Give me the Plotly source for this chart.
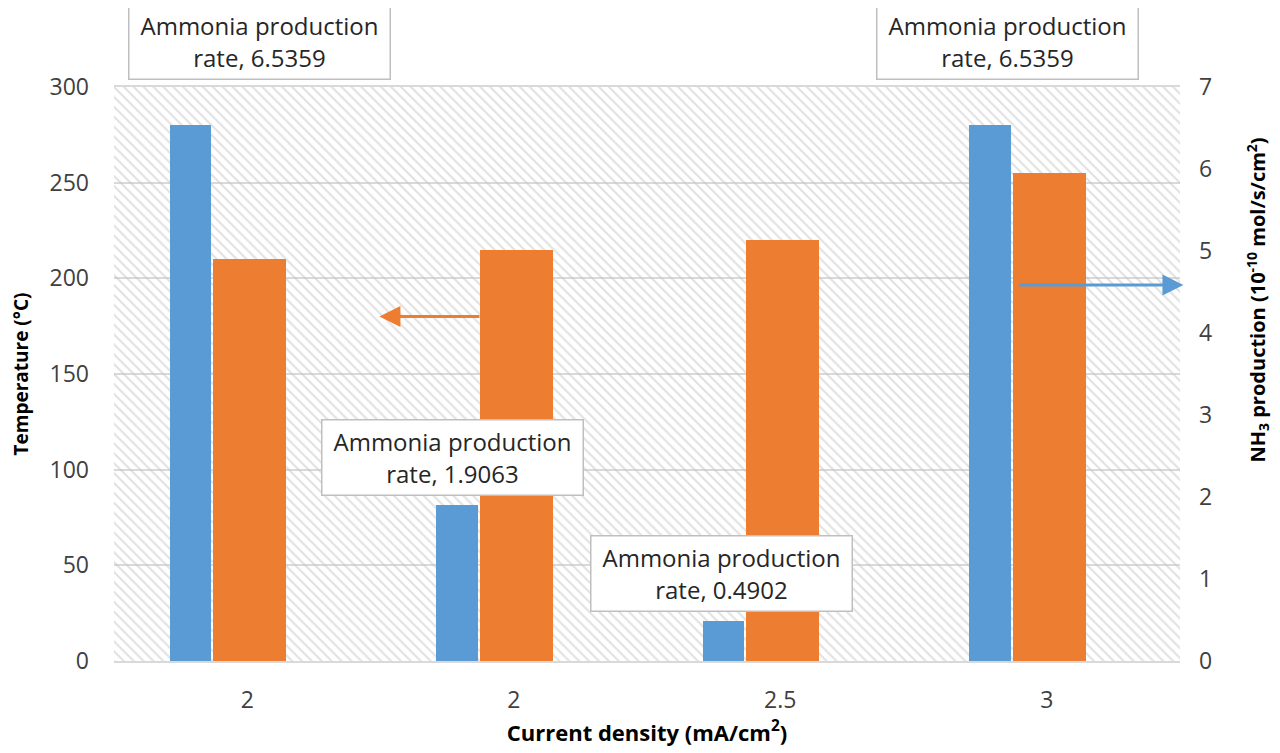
import plotly.graph_objects as go

# ---- data ----
categories = ["2", "2", "2.5", "3"]            # current density (mA/cm2)
ammonia_rate = [6.5359, 1.9063, 0.4902, 6.5359]  # NH3 production (1e-10 mol/s/cm2)
temperature = [210, 215, 220, 255]            # °C
left_ticks = [0, 50, 100, 150, 200, 250, 300]
right_ticks = [0, 1, 2, 3, 4, 5, 6, 7]

BLUE = "#5B9BD5"
ORANGE = "#ED7D31"
FONT = "Open Sans"

xpos = list(range(len(categories)))

fig = go.Figure()

# hatched plot background
fig.add_trace(go.Bar(
    x=[(xpos[0] + xpos[-1]) / 2], y=[left_ticks[-1]], base=0,
    width=[len(categories)], yaxis="y",
    marker=dict(color="rgba(255,255,255,0)", line=dict(width=0),
                pattern=dict(shape="\\", fgcolor="#c4c4c4", bgcolor="rgba(0,0,0,0)",
                             size=7, solidity=0.3)),
    hoverinfo="skip", showlegend=False))

fig.add_trace(go.Bar(
    x=xpos, y=ammonia_rate, yaxis="y2", name="Ammonia production rate",
    offset=-0.29, width=0.155, marker=dict(color=BLUE, line=dict(width=0)),
    showlegend=False))

fig.add_trace(go.Bar(
    x=xpos, y=temperature, yaxis="y3", name="Temperature",
    offset=-0.128, width=0.275, marker=dict(color=ORANGE, line=dict(width=0)),
    showlegend=False))

# label boxes
label_pos = [  # (x, yref, y)
    (0.045, "paper", 1.080),
    (0.772, "y", 106.6),
    (1.78, "y", 45.5),
    (2.851, "paper", 1.080),
]
for v, (lx, yr, ly) in zip(ammonia_rate, label_pos):
    fig.add_annotation(
        x=lx, xref="x", y=ly, yref=yr, xanchor="center", yanchor="middle",
        text=f"Ammonia production<br>rate, {v}", showarrow=False,
        font=dict(family=FONT, size=24, color="#262626"),
        bgcolor="white", bordercolor="#bfbfbf", borderwidth=1.5,
        width=256, height=70, borderpad=2, align="center")

# axis-indicating arrows
fig.add_annotation(x=0.496, y=180, xref="x", yref="y", ax=0.877, ay=180,
                   axref="x", ayref="y", text="", showarrow=True,
                   arrowhead=2, arrowsize=1.4, arrowwidth=3, arrowcolor=ORANGE,
                   standoff=0, startstandoff=0)
fig.add_annotation(x=3.513, y=4.585, xref="x", yref="y2", ax=2.892, ay=4.585,
                   axref="x", ayref="y2", text="", showarrow=True,
                   arrowhead=2, arrowsize=1.4, arrowwidth=3, arrowcolor=BLUE,
                   standoff=0, startstandoff=0)

# right axis title
fig.add_annotation(x=1.0728, y=0.629, xref="paper", yref="paper",
                   text="NH<sub>3</sub> production (10<sup>-10</sup> mol/s/cm<sup>2</sup>)",
                   textangle=-90, showarrow=False, xanchor="center", yanchor="middle",
                   font=dict(family=FONT, size=20, color="#000000", weight="bold"))

tickfont = dict(family=FONT, size=23, color="#404040")

fig.update_layout(
    width=1280, height=753,
    margin=dict(l=100, r=108, t=79, b=100),
    paper_bgcolor="white", plot_bgcolor="white",
    barmode="overlay", bargap=0,
    xaxis=dict(range=[-0.5, len(categories) - 0.5], tickvals=xpos, ticktext=categories,
               tickfont=tickfont, showgrid=False, zeroline=False,
               showline=True, mirror=True, linecolor="#d9d9d9", linewidth=1.5,
               ticks="", ticklabelstandoff=18,
               title=dict(text="Current density (mA/cm<sup>2</sup>)",
                          font=dict(family=FONT, size=22, color="#000000", weight="bold"),
                          standoff=4)),
    yaxis=dict(range=[left_ticks[0], left_ticks[-1]], tickvals=left_ticks,
               tickfont=tickfont, showgrid=True, gridcolor="#d9d9d9", gridwidth=1.5,
               zeroline=False, showline=False, ticks="", ticklabelstandoff=24,
               title=dict(text="Temperature (°C)",
                          font=dict(family=FONT, size=19, color="#000000", weight="bold"),
                          standoff=16)),
    yaxis2=dict(range=[right_ticks[0], right_ticks[-1]], tickvals=right_ticks,
                overlaying="y", side="right", tickfont=tickfont, showgrid=False,
                zeroline=False, showline=False, ticks="", ticklabelstandoff=18),
    yaxis3=dict(range=[left_ticks[0], left_ticks[-1]], overlaying="y", visible=False),
)

fig.write_html("out.html")
